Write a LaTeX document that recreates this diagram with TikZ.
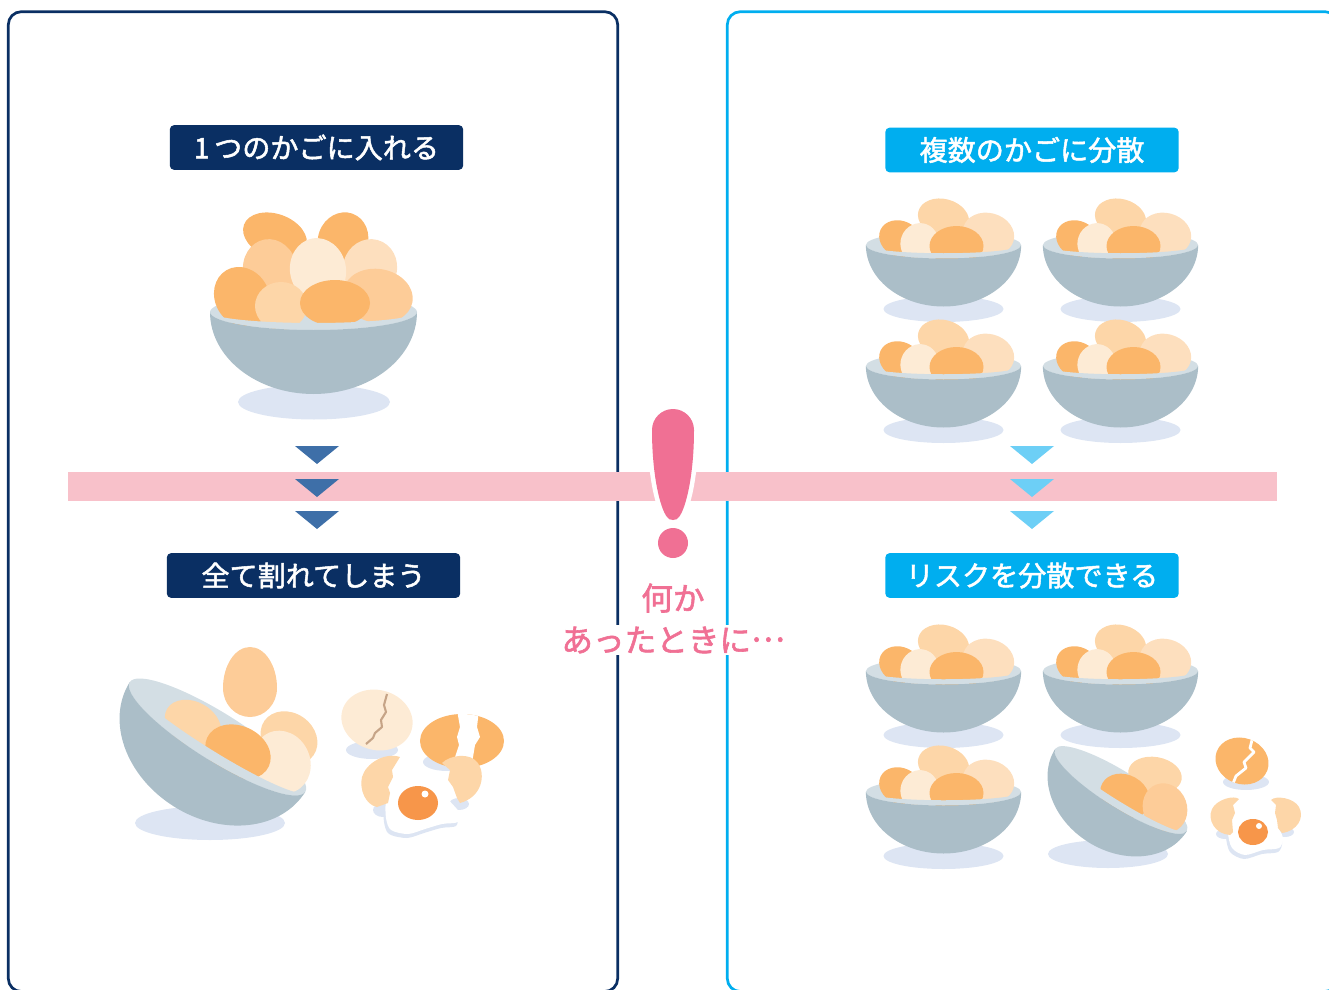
\documentclass[tikz,border=0pt]{standalone}
\usepackage{fontspec}
\newfontfamily\jpfont[FakeBold=1.8]{Noto Sans CJK JP}
\definecolor{panelnavy}{HTML}{0A2F63}
\definecolor{panelcyan}{HTML}{00AEEF}
\definecolor{arrownavy}{HTML}{3E6FA8}
\definecolor{arrowcyan}{HTML}{6DCFF6}
\definecolor{bandpink}{HTML}{F8C1CA}
\definecolor{alertpink}{HTML}{F07094}
\definecolor{bowlbody}{HTML}{ABBEC8}
\definecolor{bowlrim}{HTML}{D3DEE4}
\definecolor{shadowblue}{HTML}{DDE5F3}
\definecolor{eggdark}{HTML}{FBB66A}
\definecolor{eggmid}{HTML}{FDCC98}
\definecolor{eggsoft}{HTML}{FDD6A8}
\definecolor{egglight}{HTML}{FDDFBE}
\definecolor{eggpale}{HTML}{FDEBD5}
\definecolor{yolk}{HTML}{F7964A}
\definecolor{crack}{HTML}{C6A487}

% inner rim of a bowl: x, y, rotation, scale, rim half-height
\newcommand{\BowlBack}[5]{%
  \fill[bowlrim,shift={(#1,#2)},rotate=#3,scale=#4] (0,0) ellipse[x radius=103.5,y radius=#5];}
% front rim band and bowl body: x, y, rotation, scale, rim half-height, band inner half-height
\newcommand{\BowlFront}[6]{%
  \begin{scope}[shift={(#1,#2)},rotate=#3,scale=#4]
    \fill[bowlrim] (-103.5,0) arc[start angle=180,end angle=0,x radius=103.5,y radius=#5]
      arc[start angle=0,end angle=180,x radius=103.5,y radius=#6] -- cycle;
    \fill[bowlbody] (103.5,0) arc[start angle=0,end angle=180,x radius=103.5,y radius=82]
      arc[start angle=180,end angle=0,x radius=103.5,y radius=#5] -- cycle;
  \end{scope}}
% one egg: colour, x, y, x radius, y radius, tilt
\newcommand{\Egg}[6]{\fill[#1,rotate around={#6:(#2,#3)}] (#2,#3) ellipse[x radius=#4,y radius=#5];}
% small bowl with five eggs, rim centre at (#1,#2)
\newcommand{\SmallBowl}[2]{%
  \fill[shadowblue] (#1,#2) ++(0,64) ellipse[x radius=60,y radius=13];
  \BowlBack{#1}{#2}{0}{0.75}{18}
  \begin{scope}[shift={(#1,#2)}]
    \Egg{eggdark}{-43}{-6}{22}{18}{-25}
    \Egg{eggsoft}{0}{-27}{26}{19}{-15}
    \Egg{egglight}{45}{-11}{26}{21}{-15}
    \Egg{eggpale}{-24}{-2}{19}{20}{-20}
    \Egg{eggdark}{13}{1}{27}{20}{0}
  \end{scope}
  \BowlFront{#1}{#2}{0}{0.75}{18}{11}}

\begin{document}
\begin{tikzpicture}[x=0.02cm,y=-0.02cm,
  titlebox/.style={rounded corners=2.5pt, minimum width=167pt, minimum height=25.5pt,
    inner sep=0pt, text=white, font=\jpfont\fontsize{16}{19}\selectfont},
  alerttext/.style={text=alertpink, inner xsep=0pt, inner ysep=1pt,
    font=\jpfont\fontsize{18}{21}\selectfont},
  panel/.style={line width=1.55pt, rounded corners=7.4pt},
  navymark/.style={fill=arrownavy},
  cyanmark/.style={fill=arrowcyan}]

\path[use as bounding box] (0,0) rectangle (1329,990);
\clip (0,0) rectangle (1329,990);

% two panels
\draw[panel, panelnavy] (8.3,11.7) rectangle (617.7,991.5);
\draw[panel, panelcyan] (727.3,11.7) rectangle (1338,991.5);

% pink band with the exclamation mark cut into it
\fill[bandpink] (68,472) rectangle (1277,501);
\fill[alertpink, preaction={draw=white, line width=5.2pt}]
  (652,430) arc[start angle=180,end angle=360,radius=21]
  .. controls (694,475) and (686,508) .. (679,517)
  .. controls (677,521) and (669,521) .. (667,517)
  .. controls (660,508) and (652,475) .. (652,430) -- cycle;
\fill[alertpink] (673,543) circle[radius=15];

% step markers
\foreach \yy in {446,479,511} {
  \fill[navymark] (295,\yy) -- (339,\yy) -- (317,\yy+18) -- cycle;
  \fill[cyanmark] (1010,\yy) -- (1054,\yy) -- (1032,\yy+18) -- cycle;
}

% headings
\node[titlebox, fill=panelnavy] (t1) at (316.5,147.5) {1\,つのかごに入れる};
\node[titlebox, fill=panelcyan] (t2) at (1032,150) {複数のかごに分散};
\node[titlebox, fill=panelnavy] (r1) at (313.5,575.5) {全て割れてしまう};
\node[titlebox, fill=panelcyan] (r2) at (1032,575.5) {リスクを分散できる};

\node[alerttext] (q1) at (673,598) {何か};
\node[alerttext, fill=white] (q2) at (673,640) {あったときに\raisebox{0.33em}{…}};

% ---- one big bowl full of eggs ----
\fill[shadowblue] (314,402) ellipse[x radius=76,y radius=17.5];
\BowlBack{313.5}{312}{0}{1}{18}
\Egg{eggdark}{275}{236}{33}{22}{-20}
\Egg{eggdark}{343}{240}{25}{28}{-20}
\Egg{egglight}{370}{268}{27}{29}{-15}
\Egg{eggmid}{270}{270}{27}{31}{10}
\Egg{eggpale}{318}{270}{28}{32}{10}
\Egg{eggmid}{378}{296}{35}{27}{-10}
\Egg{eggdark}{242}{297}{27}{31}{30}
\Egg{eggsoft}{281}{306}{26}{24}{0}
\Egg{eggdark}{335}{303}{35}{23}{0}
\BowlFront{313.5}{312}{0}{1}{18}{11}

% ---- four small bowls ----
\SmallBowl{943.5}{245}
\SmallBowl{1120.5}{245}
\SmallBowl{943.5}{366}
\SmallBowl{1120.5}{366}

% ---- the big bowl tipped over ----
\fill[shadowblue] (210,823) ellipse[x radius=75,y radius=17];
\BowlBack{217.5}{737}{-32}{1}{24}
\Egg{eggsoft}{289}{738}{30}{25}{-35}
\Egg{eggsoft}{193}{724}{30}{22}{-30}
\Egg{eggpale}{282}{762}{28}{32}{25}
\Egg{eggdark}{238}{752}{34}{26}{-25}
\BowlFront{217.5}{737}{-32}{1}{24}{14}
\fill[eggmid] (223,688) arc[start angle=180,end angle=360,x radius=27,y radius=41]
  arc[start angle=0,end angle=180,x radius=27,y radius=29] -- cycle;

% cracked pale egg
\fill[shadowblue] (372,750) ellipse[x radius=26,y radius=9];
\Egg{eggpale}{377}{720}{36}{30}{-15}
\draw[crack, line width=1.2pt, line join=round]
  (387,694) -- (384,705) -- (386,712) -- (381,720) -- (382,727) -- (375,733) -- (373,738) -- (366,744);

% broken dark egg
\fill[shadowblue] (447,762) ellipse[x radius=24,y radius=9];
\Egg{eggdark}{462}{741}{42}{27}{0}
\begin{scope}
  \clip (462,741) ellipse[x radius=42,y radius=27];
  \fill[white] (457,710) -- (460,727) -- (457,737) -- (459,745) -- (455,757) -- (452,772)
    -- (471,772) -- (473,757) -- (475,745) -- (480,737) -- (477,727) -- (479,710) -- cycle;
\end{scope}

% fried egg with shells
\fill[shadowblue] (383,810) ellipse[x radius=10,y radius=7];
\fill[shadowblue] (459,804) ellipse[x radius=10,y radius=6];
\fill[shadowblue] plot[smooth cycle] coordinates {(390,789) (384,804) (384,822) (389,834) (407,838) (424,833) (441,828) (456,826) (457,816) (447,804) (439,789) (419,782)};
\fill[white] plot[smooth cycle] coordinates {(392,785) (386,800) (386,818) (391,830) (408,834) (425,829) (442,824) (458,822) (459,812) (449,800) (441,785) (420,778)};
\fill[eggsoft] (400,757) .. controls (385,752) and (366,763) .. (362,777)
  .. controls (359,790) and (366,805) .. (377,807) -- (388,803) -- (390,793) -- (388,787)
  -- (393,777) -- (392,770) -- cycle;
\fill[eggsoft] (442,763) .. controls (450,755) and (470,752) .. (478,763)
  .. controls (486,775) and (482,797) .. (460,803) -- (457,798) -- (453,787) -- (448,780)
  -- (450,770) -- cycle;
\fill[yolk] (418,803) ellipse[x radius=20,y radius=17];
\fill[white] (425,794) circle[radius=3.5];

% ---- bottom right: three bowls intact, one tipped ----
\SmallBowl{943.5}{671}
\SmallBowl{1120.5}{671}
\SmallBowl{943.5}{792}

\fill[shadowblue] (1108,854) ellipse[x radius=60,y radius=14];
\BowlBack{1121}{790}{-32}{0.75}{24}
\Egg{eggsoft}{1155}{775}{27}{18}{-10}
\Egg{eggdark}{1125}{796}{26}{21}{-30}
\Egg{eggmid}{1165}{808}{22}{25}{20}
\BowlFront{1121}{790}{-32}{0.75}{24}{14}

% cracked dark egg
\fill[shadowblue] (1246,782) ellipse[x radius=23,y radius=8];
\Egg{eggdark}{1242}{761}{27}{23}{-20}
\begin{scope}
  \clip[rotate around={-20:(1242,761)}] (1242,761) ellipse[x radius=27,y radius=23];
  \draw[white, line width=1.6pt, line join=round]
    (1253,736) -- (1250,748) -- (1254,752) -- (1244,762) -- (1246,768) -- (1236,776) -- (1232,786);
\end{scope}

% fried egg with shells
\fill[shadowblue] (1225,834) ellipse[x radius=9,y radius=5];
\fill[shadowblue] (1285,832) ellipse[x radius=9,y radius=5];
\fill[shadowblue] plot[smooth cycle] coordinates {(1230,822) (1226,836) (1230,852) (1244,859) (1262,854) (1278,852) (1282,842) (1274,829) (1261,819) (1244,817)};
\fill[white] plot[smooth cycle] coordinates {(1232,818) (1228,832) (1232,848) (1245,855) (1263,850) (1279,848) (1283,838) (1276,825) (1262,815) (1245,813)};
\fill[eggsoft] (1239,799) .. controls (1234,795) and (1217,799) .. (1212,809)
  .. controls (1207,820) and (1215,834) .. (1230,835) -- (1233,832) -- (1232,820)
  -- (1235,813) -- (1233,805) -- cycle;
\fill[eggsoft] (1271,800) .. controls (1276,795) and (1294,798) .. (1299,807)
  .. controls (1305,818) and (1297,831) .. (1282,833) -- (1278,828) -- (1277,820)
  -- (1275,813) -- (1276,805) -- cycle;
\fill[yolk] (1253,832) ellipse[x radius=15,y radius=13];
\fill[white] (1259,826) circle[radius=3];

\end{tikzpicture}
\end{document}
